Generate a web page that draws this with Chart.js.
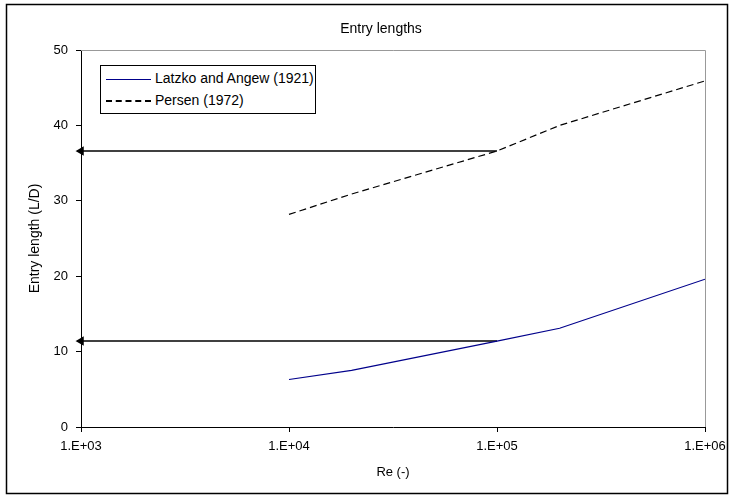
<!DOCTYPE html>
<html lang="en">
<head>
  <meta charset="UTF-8" />
  <title>Entry lengths</title>
  <script src="https://cdn.jsdelivr.net/npm/chart.js"></script>
  <style>
    body {
      margin: 0;
      background: white;
      font-family: "Liberation Sans", Arial, sans-serif;
    }
    .wrap {
      position: relative;
      width: 734px;
      height: 500px;
    }
    .legend {
      position: absolute;
      left: 100px;
      top: 65px;
      width: 214px;
      height: 47px;
      border: 1px solid #000;
      background: white;
      font-size: 14px;
      color: #000;
    }
    .row {
      position: absolute;
      left: 5px;
      height: 17px;
      line-height: 17px;
      white-space: nowrap;
    }
    .sample {
      display: inline-block;
      width: 45px;
      vertical-align: middle;
      margin-right: 4px;
    }
  </style>
</head>
<body>
  <div class="wrap">
    <canvas id="chart" width="734" height="500"></canvas>
    <div class="legend">
      <div class="row" style="top:4px"><span class="sample" style="border-top:1px solid #00008b"></span>Latzko and Angew (1921)</div>
      <div class="row" style="top:26px"><span class="sample" style="border-top:2px dashed #000"></span>Persen (1972)</div>
    </div>
  </div>

  <script>
    // Reynolds numbers used by both series
    const reValues = [1e4, 2e4, 1e5, 2e5, 1e6];
    const latzko = [6.3, 7.5, 11.4, 13.1, 19.6];
    const persen = [28.2, 30.9, 36.6, 40.0, 45.9];

    // horizontal read-off arrows (from Re = 1e5 back to the axis)
    const arrowFrom = 1e5;
    const arrowTo = 1e3;
    const arrowLevels = [36.6, 11.4];

    const xTicks = [1e3, 1e4, 1e5, 1e6];
    const yTicks = [0, 10, 20, 30, 40, 50];

    const font = "'Liberation Sans', Arial, sans-serif";

    function toPoints(ys) {
      return reValues.map((x, i) => ({ x, y: ys[i] }));
    }

    const arrowSets = arrowLevels.map(y => ({
      label: 'arrow',
      data: [{ x: arrowFrom, y }, { x: arrowTo, y }],
      borderColor: '#000',
      backgroundColor: '#000',
      borderWidth: 1.5,
      pointStyle: 'triangle',
      pointRadius: [0, 4],
      pointRotation: -90,
      clip: false
    }));

    const framePlugin = {
      id: 'frame',
      afterDraw(chart) {
        const { ctx, chartArea: a } = chart;
        ctx.save();
        // gray top/right plot border
        ctx.strokeStyle = '#999';
        ctx.lineWidth = 1;
        ctx.beginPath();
        ctx.moveTo(a.left, a.top + 0.5);
        ctx.lineTo(a.right + 0.5, a.top + 0.5);
        ctx.lineTo(a.right + 0.5, a.bottom);
        ctx.stroke();
        // outer border
        ctx.strokeStyle = '#000';
        ctx.lineWidth = 1.5;
        ctx.strokeRect(6.5, 4.5, 721, 489);
        // title
        ctx.fillStyle = '#000';
        ctx.font = '14px ' + font;
        ctx.textAlign = 'center';
        ctx.textBaseline = 'middle';
        ctx.fillText('Entry lengths', 381, 29);
        ctx.restore();
      }
    };

    new Chart(document.getElementById('chart'), {
      type: 'line',
      data: {
        datasets: [
          {
            label: 'Latzko and Angew (1921)',
            data: toPoints(latzko),
            borderColor: '#00008b',
            borderWidth: 1.2,
            pointRadius: 0
          },
          {
            label: 'Persen (1972)',
            data: toPoints(persen),
            borderColor: '#000',
            borderWidth: 1.2,
            borderDash: [7, 4],
            pointRadius: 0
          },
          ...arrowSets
        ]
      },
      options: {
        responsive: false,
        animation: false,
        layout: { padding: { left: 0, right: 29, top: 50, bottom: 0 } },
        plugins: {
          legend: { display: false },
          tooltip: { enabled: false }
        },
        scales: {
          x: {
            type: 'logarithmic',
            min: 1e3,
            max: 1e6,
            afterBuildTicks: s => { s.ticks = xTicks.map(v => ({ value: v })); },
            afterFit: s => { s.height = 73; },
            ticks: {
              color: '#000',
              font: { family: font, size: 13 },
              padding: 7,
              maxRotation: 0,
              callback: v => '1.E+' + String(Math.round(Math.log10(v))).padStart(2, '0')
            },
            grid: { drawOnChartArea: false, tickLength: 5, color: '#000' },
            border: { color: '#000', width: 1 },
            title: {
              display: true,
              text: 'Re (-)',
              color: '#000',
              font: { family: font, size: 13 },
              padding: { top: 0, bottom: 20 }
            }
          },
          y: {
            min: 0,
            max: 50,
            afterBuildTicks: s => { s.ticks = yTicks.map(v => ({ value: v })); },
            afterFit: s => { s.width = 81; },
            ticks: {
              color: '#000',
              font: { family: font, size: 13 },
              padding: 8
            },
            grid: { drawOnChartArea: false, tickLength: 5, color: '#000' },
            border: { color: '#000', width: 1 },
            title: {
              display: true,
              text: 'Entry length (L/D)',
              color: '#000',
              font: { family: font, size: 14 },
              padding: { top: 27, bottom: 0 }
            }
          }
        }
      },
      plugins: [framePlugin]
    });
  </script>
</body>
</html>
